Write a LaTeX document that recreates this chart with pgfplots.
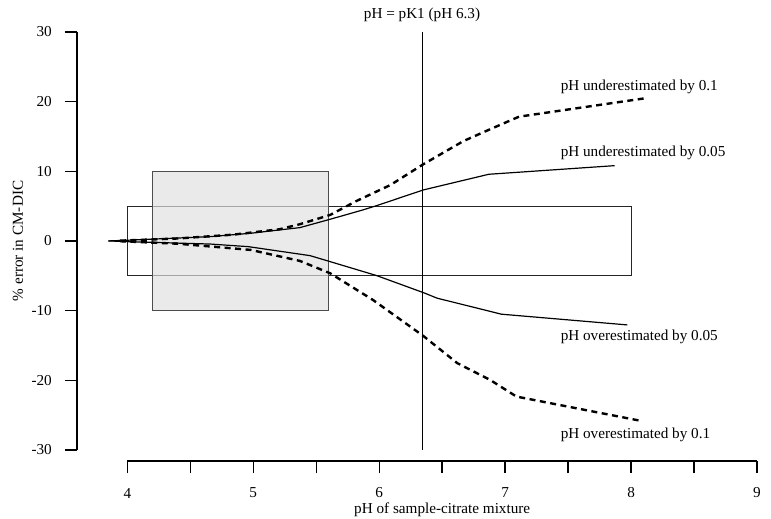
\documentclass[border=0pt]{standalone}
\usepackage{pgfplots}
\pgfplotsset{compat=1.18}
\usetikzlibrary{calc}
\usepackage{fontspec}
\setmainfont{Liberation Serif}
\begin{document}
\fontsize{15.2}{18}\selectfont
\begin{tikzpicture}
\useasboundingbox (-77pt,-58pt) rectangle (694pt,461pt);
\begin{axis}[
  at={(0pt,0pt)}, anchor=south west,
  scale only axis, width=680pt, height=429pt,
  xmin=3.6, xmax=9, ymin=-31.6, ymax=30,
  clip=false,
  axis x line*=bottom, axis y line*=left,
  axis line style={draw=none},
  tick align=outside, major tick length=12pt,
  tick style={black, line width=1.4pt},
  xtick={4,4.5,5,5.5,6,6.5,7,7.5,8,8.5,9},
  xticklabels={4,,5,,6,,7,,8,,9},
  ytick={-30,-20,-10,0,10,20,30},
  yticklabels={-30,-20,-10,0,10,20,30},
  xticklabel style={anchor=center, inner sep=0pt, yshift=-20pt},
  yticklabel style={anchor=east, inner sep=0pt, xshift=-13pt},
  every tick label/.append style={font=\fontsize{15.2}{18}\selectfont},
]
% axis lines (R style)
\draw[line width=1.5pt] (axis cs:4,-31.6) -- (axis cs:9,-31.6);
\draw[line width=1.5pt] (axis cs:3.6,-30) -- (axis cs:3.6,30);

% wide +-5 box
\addplot[black!85, line width=0.9pt] coordinates {(4,-5) (8,-5) (8,5) (4,5) (4,-5)};
% grey +-10 box
\addplot[black!70, line width=0.9pt, fill=black!12, fill opacity=0.68] coordinates {(4.2,-10) (5.6,-10) (5.6,10) (4.2,10)} -- cycle;
% pK1 line
\addplot[black, line width=1pt] coordinates {(6.34,-30) (6.34,30)};

% pH underestimated by 0.05
\addplot[black, line width=1.2pt] coordinates {
(3.85,0) (4.0,0.1) (4.66,0.62) (4.98,1.1) (5.16,1.48) (5.37,1.91) (5.61,3.11) (5.87,4.45) (5.98,5.07) (6.35,7.32) (6.87,9.57) (7.87,10.81)};
% pH overestimated by 0.05
\addplot[black, line width=1.2pt] coordinates {
(3.85,0) (4.0,-0.1) (4.66,-0.45) (4.96,-0.82) (5.45,-2.11) (5.61,-2.97) (5.98,-4.98) (6.35,-7.42) (6.46,-8.22) (6.97,-10.52) (7.97,-12.06)};
% pH underestimated by 0.1
\addplot[black, line width=2.4pt, dash pattern=on 6pt off 4.5pt] coordinates {
(3.94,0.04) (4.4,0.35) (4.84,0.9) (5.21,1.68) (5.37,2.4) (5.61,3.73) (5.82,5.74) (6.09,8.04) (6.35,11.01) (6.67,14.35) (6.88,16.03) (7.11,17.84) (8.11,20.48)};
% pH overestimated by 0.1
\addplot[black, line width=2.4pt, dash pattern=on 6pt off 4.5pt] coordinates {
(3.94,-0.04) (4.4,-0.4) (4.98,-1.29) (5.37,-2.87) (5.61,-4.64) (5.95,-8.47) (6.35,-13.64) (6.62,-17.55) (6.88,-19.95) (7.09,-22.35) (8.08,-25.84)};

% labels
\node[anchor=west, inner sep=0pt] at (axis cs:7.44,22.1) {pH underestimated by 0.1};
\node[anchor=west, inner sep=0pt] at (axis cs:7.44,12.63) {pH underestimated by 0.05};
\node[anchor=west, inner sep=0pt] at (axis cs:7.44,-13.78) {pH overestimated by 0.05};
\node[anchor=west, inner sep=0pt] at (axis cs:7.44,-27.85) {pH overestimated by 0.1};
\node[inner sep=0pt] at ($(axis cs:6.34,30)+(0pt,17pt)$) {pH = pK1 (pH 6.3)};
\node[inner sep=0pt] at ($(axis cs:6.5,-31.6)+(0pt,-49pt)$) {pH of sample-citrate mixture};
\node[inner sep=0pt, rotate=90] at ($(axis cs:3.6,0)+(-59pt,0pt)$) {\% error in CM-DIC};
\end{axis}
\end{tikzpicture}
\end{document}
